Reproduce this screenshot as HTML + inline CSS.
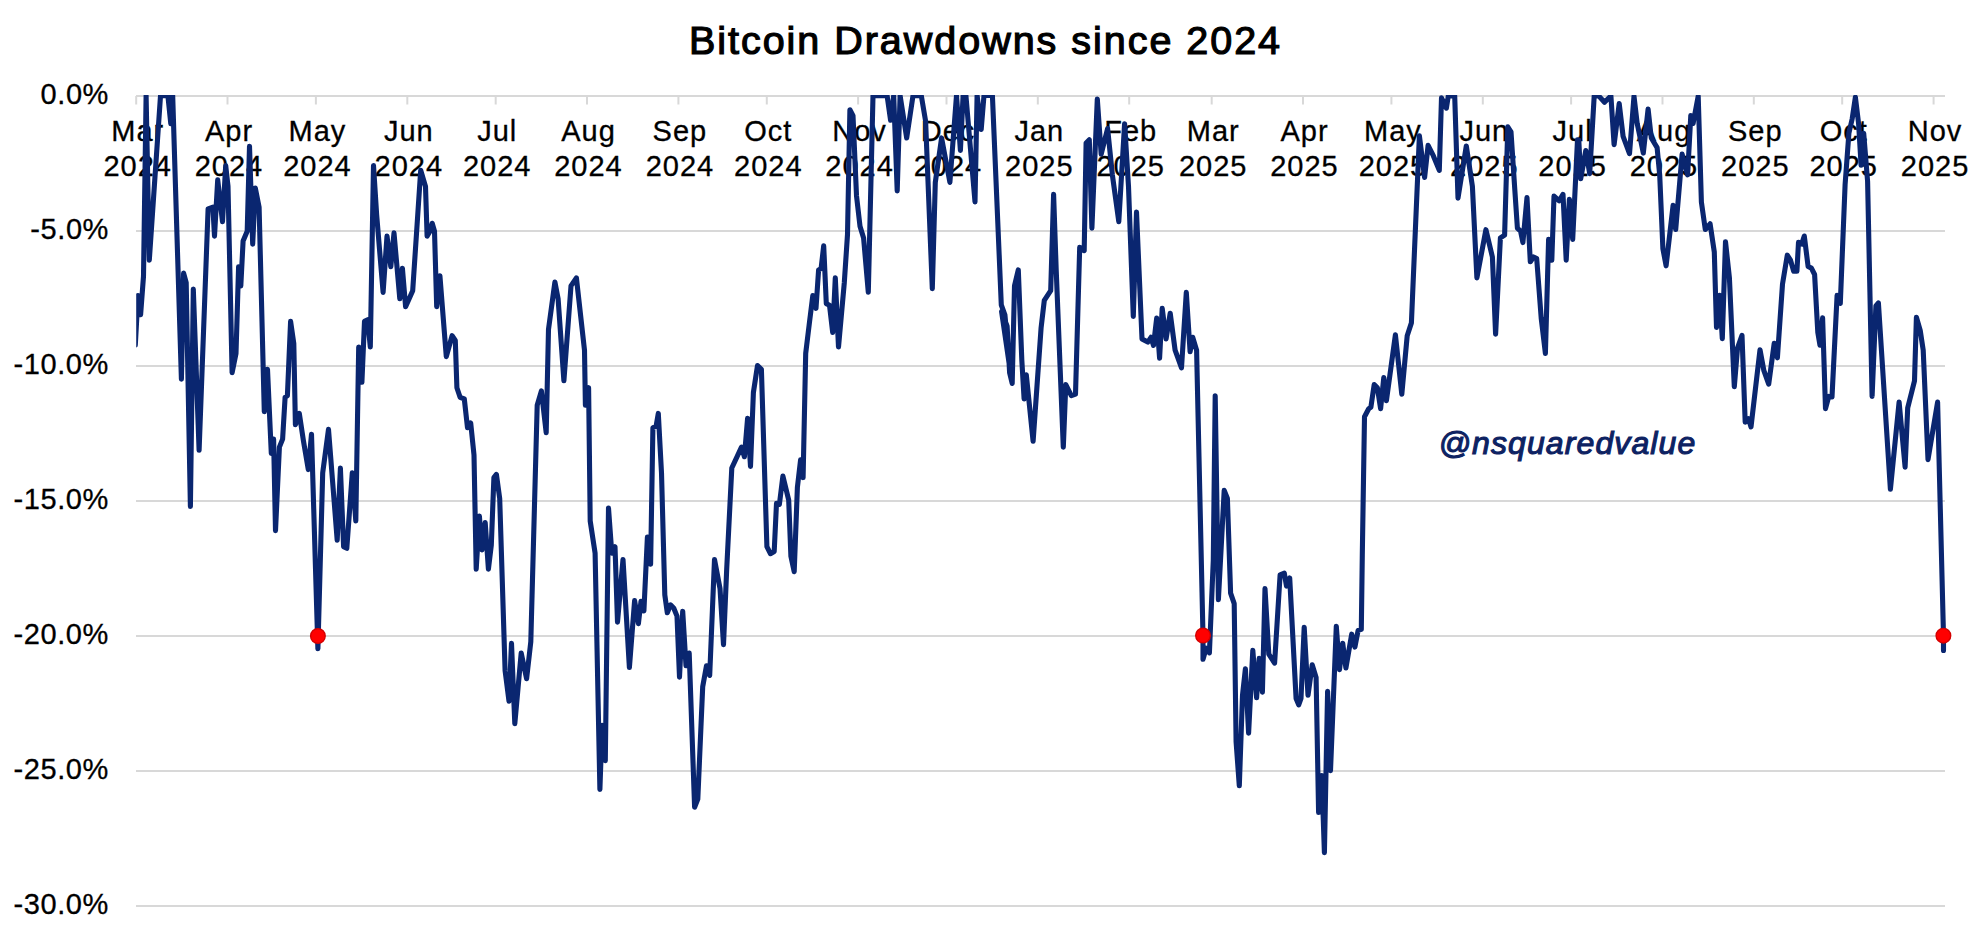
<!DOCTYPE html>
<html><head><meta charset="utf-8"><style>
html,body{margin:0;padding:0;background:#fff;}
body{width:1968px;height:934px;overflow:hidden;position:relative;}
svg{position:absolute;left:0;top:0;}
text{font-family:"Liberation Sans",sans-serif;}
.yl{font-size:29px;letter-spacing:0.6px;fill:#000;stroke:#000;stroke-width:0.3px;}
.xl{font-size:29px;letter-spacing:1px;fill:#000;stroke:#000;stroke-width:0.3px;}
.ttl{font-size:39.5px;letter-spacing:1.97px;stroke:#000;stroke-width:1.2px;fill:#000;}
.wm{font-size:32px;font-style:italic;letter-spacing:1.1px;stroke:#0d2262;stroke-width:1.1px;fill:#0d2262;}
</style></head><body>
<svg width="1968" height="934" viewBox="0 0 1968 934">
<text x="985.5" y="53.5" text-anchor="middle" class="ttl">Bitcoin Drawdowns since 2024</text>
<line x1="136" y1="95.9" x2="1945" y2="95.9" stroke="#d8d8d8" stroke-width="2"/>
<line x1="136" y1="230.9" x2="1945" y2="230.9" stroke="#d8d8d8" stroke-width="2"/>
<line x1="136" y1="365.9" x2="1945" y2="365.9" stroke="#d8d8d8" stroke-width="2"/>
<line x1="136" y1="500.9" x2="1945" y2="500.9" stroke="#d8d8d8" stroke-width="2"/>
<line x1="136" y1="635.9" x2="1945" y2="635.9" stroke="#d8d8d8" stroke-width="2"/>
<line x1="136" y1="770.9" x2="1945" y2="770.9" stroke="#d8d8d8" stroke-width="2"/>
<line x1="136" y1="905.9" x2="1945" y2="905.9" stroke="#d8d8d8" stroke-width="2"/>
<line x1="136.2" y1="96" x2="136.2" y2="104.5" stroke="#d8d8d8" stroke-width="2"/>
<line x1="227.5" y1="96" x2="227.5" y2="104.5" stroke="#d8d8d8" stroke-width="2"/>
<line x1="315.9" y1="96" x2="315.9" y2="104.5" stroke="#d8d8d8" stroke-width="2"/>
<line x1="407.3" y1="96" x2="407.3" y2="104.5" stroke="#d8d8d8" stroke-width="2"/>
<line x1="495.7" y1="96" x2="495.7" y2="104.5" stroke="#d8d8d8" stroke-width="2"/>
<line x1="587.0" y1="96" x2="587.0" y2="104.5" stroke="#d8d8d8" stroke-width="2"/>
<line x1="678.4" y1="96" x2="678.4" y2="104.5" stroke="#d8d8d8" stroke-width="2"/>
<line x1="766.8" y1="96" x2="766.8" y2="104.5" stroke="#d8d8d8" stroke-width="2"/>
<line x1="858.1" y1="96" x2="858.1" y2="104.5" stroke="#d8d8d8" stroke-width="2"/>
<line x1="946.5" y1="96" x2="946.5" y2="104.5" stroke="#d8d8d8" stroke-width="2"/>
<line x1="1037.8" y1="96" x2="1037.8" y2="104.5" stroke="#d8d8d8" stroke-width="2"/>
<line x1="1129.2" y1="96" x2="1129.2" y2="104.5" stroke="#d8d8d8" stroke-width="2"/>
<line x1="1211.7" y1="96" x2="1211.7" y2="104.5" stroke="#d8d8d8" stroke-width="2"/>
<line x1="1303.0" y1="96" x2="1303.0" y2="104.5" stroke="#d8d8d8" stroke-width="2"/>
<line x1="1391.4" y1="96" x2="1391.4" y2="104.5" stroke="#d8d8d8" stroke-width="2"/>
<line x1="1482.8" y1="96" x2="1482.8" y2="104.5" stroke="#d8d8d8" stroke-width="2"/>
<line x1="1571.1" y1="96" x2="1571.1" y2="104.5" stroke="#d8d8d8" stroke-width="2"/>
<line x1="1662.5" y1="96" x2="1662.5" y2="104.5" stroke="#d8d8d8" stroke-width="2"/>
<line x1="1753.8" y1="96" x2="1753.8" y2="104.5" stroke="#d8d8d8" stroke-width="2"/>
<line x1="1842.2" y1="96" x2="1842.2" y2="104.5" stroke="#d8d8d8" stroke-width="2"/>
<line x1="1933.6" y1="96" x2="1933.6" y2="104.5" stroke="#d8d8d8" stroke-width="2"/>
<text x="109" y="104.3" text-anchor="end" class="yl">0.0%</text>
<text x="109" y="239.3" text-anchor="end" class="yl">-5.0%</text>
<text x="109" y="374.3" text-anchor="end" class="yl">-10.0%</text>
<text x="109" y="509.3" text-anchor="end" class="yl">-15.0%</text>
<text x="109" y="644.3" text-anchor="end" class="yl">-20.0%</text>
<text x="109" y="779.3" text-anchor="end" class="yl">-25.0%</text>
<text x="109" y="914.3" text-anchor="end" class="yl">-30.0%</text>
<text x="137.7" y="141" text-anchor="middle" class="xl">Mar</text>
<text x="137.7" y="176" text-anchor="middle" class="xl">2024</text>
<text x="229.0" y="141" text-anchor="middle" class="xl">Apr</text>
<text x="229.0" y="176" text-anchor="middle" class="xl">2024</text>
<text x="317.4" y="141" text-anchor="middle" class="xl">May</text>
<text x="317.4" y="176" text-anchor="middle" class="xl">2024</text>
<text x="408.8" y="141" text-anchor="middle" class="xl">Jun</text>
<text x="408.8" y="176" text-anchor="middle" class="xl">2024</text>
<text x="497.2" y="141" text-anchor="middle" class="xl">Jul</text>
<text x="497.2" y="176" text-anchor="middle" class="xl">2024</text>
<text x="588.5" y="141" text-anchor="middle" class="xl">Aug</text>
<text x="588.5" y="176" text-anchor="middle" class="xl">2024</text>
<text x="679.9" y="141" text-anchor="middle" class="xl">Sep</text>
<text x="679.9" y="176" text-anchor="middle" class="xl">2024</text>
<text x="768.3" y="141" text-anchor="middle" class="xl">Oct</text>
<text x="768.3" y="176" text-anchor="middle" class="xl">2024</text>
<text x="859.6" y="141" text-anchor="middle" class="xl">Nov</text>
<text x="859.6" y="176" text-anchor="middle" class="xl">2024</text>
<text x="948.0" y="141" text-anchor="middle" class="xl">Dec</text>
<text x="948.0" y="176" text-anchor="middle" class="xl">2024</text>
<text x="1039.3" y="141" text-anchor="middle" class="xl">Jan</text>
<text x="1039.3" y="176" text-anchor="middle" class="xl">2025</text>
<text x="1130.7" y="141" text-anchor="middle" class="xl">Feb</text>
<text x="1130.7" y="176" text-anchor="middle" class="xl">2025</text>
<text x="1213.2" y="141" text-anchor="middle" class="xl">Mar</text>
<text x="1213.2" y="176" text-anchor="middle" class="xl">2025</text>
<text x="1304.5" y="141" text-anchor="middle" class="xl">Apr</text>
<text x="1304.5" y="176" text-anchor="middle" class="xl">2025</text>
<text x="1392.9" y="141" text-anchor="middle" class="xl">May</text>
<text x="1392.9" y="176" text-anchor="middle" class="xl">2025</text>
<text x="1484.3" y="141" text-anchor="middle" class="xl">Jun</text>
<text x="1484.3" y="176" text-anchor="middle" class="xl">2025</text>
<text x="1572.6" y="141" text-anchor="middle" class="xl">Jul</text>
<text x="1572.6" y="176" text-anchor="middle" class="xl">2025</text>
<text x="1664.0" y="141" text-anchor="middle" class="xl">Aug</text>
<text x="1664.0" y="176" text-anchor="middle" class="xl">2025</text>
<text x="1755.3" y="141" text-anchor="middle" class="xl">Sep</text>
<text x="1755.3" y="176" text-anchor="middle" class="xl">2025</text>
<text x="1843.7" y="141" text-anchor="middle" class="xl">Oct</text>
<text x="1843.7" y="176" text-anchor="middle" class="xl">2025</text>
<text x="1935.1" y="141" text-anchor="middle" class="xl">Nov</text>
<text x="1935.1" y="176" text-anchor="middle" class="xl">2025</text>
<defs><clipPath id="pc"><rect x="136.2" y="95" width="1832" height="840"/></clipPath></defs>
<polyline points="135.3,345.0 138.0,295.6 140.6,314.8 143.5,276.3 146.1,95.8 149.3,260.2 160.5,95.8 167.9,95.8 170.8,123.7 172.7,95.8 181.4,379.1 183.6,273.1 186.2,282.7 190.4,506.5 193.3,289.1 199.1,450.3 208.1,208.8 212.9,207.2 214.5,236.1 217.7,179.9 222.5,221.7 225.7,165.5 228.0,186.4 232.1,372.7 236.0,353.4 238.6,266.7 240.8,285.9 243.1,241.0 247.2,231.3 249.5,146.2 252.7,244.2 255.3,188.0 259.1,207.2 264.3,411.8 267.5,369.4 271.3,453.5 273.6,439.1 275.5,530.6 279.4,447.1 282.6,439.1 285.1,397.3 287.4,395.7 290.6,321.3 293.8,343.7 295.4,424.6 299.3,413.4 303.4,440.7 308.3,469.6 311.5,434.2 317.9,648.8 322.7,472.8 328.5,429.4 337.2,540.2 340.4,468.0 343.6,546.7 346.8,548.3 352.3,472.8 355.8,521.0 358.7,347.0 361.9,382.3 364.5,321.3 367.7,319.7 370.3,347.0 373.5,165.5 376.7,215.3 383.1,292.4 387.0,236.1 390.8,266.7 394.0,232.9 399.8,298.8 402.4,268.3 405.6,306.8 412.7,290.7 420.7,170.3 425.5,186.4 427.1,236.1 430.0,231.3 432.2,223.3 434.5,231.3 436.7,306.8 439.9,275.7 446.3,356.6 452.1,335.7 455.3,340.5 456.9,387.7 460.1,397.3 464.3,398.9 467.5,427.8 470.7,423.0 474.0,455.1 476.2,569.1 479.4,516.1 482.0,549.9 485.2,522.6 488.4,569.1 491.3,545.1 493.9,477.6 496.4,474.4 499.7,498.5 505.1,670.7 509.0,701.2 511.5,643.4 514.8,723.7 521.2,653.0 526.6,678.7 530.8,641.8 537.2,405.3 541.4,390.9 546.2,432.6 548.5,329.3 554.9,282.1 558.1,298.8 563.9,380.7 571.0,285.9 576.4,277.9 584.5,350.2 585.4,405.3 588.6,387.7 590.2,521.0 595.1,553.1 599.9,789.5 602.1,725.3 605.3,760.6 608.5,508.1 611.8,553.1 615.0,546.7 617.5,622.1 623.0,559.5 629.4,667.5 634.6,600.6 638.4,623.7 641.0,601.3 643.9,610.9 647.4,537.0 650.6,564.3 652.9,427.8 656.1,426.2 658.3,413.4 661.5,472.8 664.8,594.8 667.3,612.8 670.5,604.8 673.7,608.0 677.0,616.1 679.5,677.1 682.7,611.2 686.0,665.8 689.2,653.0 694.6,807.2 697.8,799.1 702.7,686.7 706.5,665.8 709.7,675.5 714.5,559.5 720.0,588.4 723.5,644.6 726.7,569.1 731.8,468.0 741.5,447.1 744.4,456.7 747.6,418.2 750.5,466.4 753.4,392.5 757.5,365.6 761.4,369.4 766.9,546.7 770.4,553.7 774.2,551.5 776.5,503.3 779.4,504.3 782.9,476.0 788.7,500.1 790.9,556.3 794.2,571.7 797.4,487.2 800.6,459.9 803.1,477.6 805.7,353.4 809.6,321.3 812.8,295.6 816.0,308.4 818.6,269.9 821.1,268.6 823.7,245.8 826.3,303.6 829.5,305.2 832.7,332.5 835.3,277.9 838.5,347.0 844.3,282.7 847.5,234.5 849.9,109.7 853.0,115.6 856.5,195.7 860.0,226.3 863.6,238.1 868.3,292.3 873.0,95.6 887.1,95.6 890.6,120.3 893.7,95.6 897.2,191.0 900.1,95.6 906.7,138.0 913.0,95.6 921.3,95.6 925.6,121.2 932.3,288.7 935.3,182.4 941.6,137.9 949.9,182.4 956.5,95.4 960.4,150.4 963.1,95.4 965.9,95.4 975.0,201.9 977.1,95.4 981.2,129.5 984.0,95.4 992.4,95.4 1001.3,305.0 1004.9,314.8 1010.0,369.4 1001.6,311.6 1007.1,326.1 1009.6,372.7 1012.2,383.5 1014.5,285.9 1018.3,269.9 1021.8,359.8 1024.1,398.9 1026.3,374.8 1033.1,441.3 1041.1,327.7 1044.3,300.4 1050.7,290.7 1053.6,194.4 1056.2,269.9 1063.3,447.1 1065.8,384.5 1071.3,395.7 1075.5,394.1 1079.7,247.4 1084.2,250.6 1086.1,143.0 1089.3,139.8 1091.9,228.1 1097.3,99.0 1101.2,154.2 1107.6,128.5 1112.4,175.1 1118.8,221.7 1124.6,123.7 1128.5,186.4 1133.3,316.4 1136.5,212.1 1142.0,338.9 1147.8,342.1 1151.0,337.3 1153.5,345.4 1156.7,318.1 1159.6,358.2 1162.2,308.4 1166.1,338.9 1170.2,313.2 1175.1,350.2 1181.5,367.8 1186.3,292.4 1190.1,351.8 1192.7,337.3 1196.6,350.2 1203.0,635.8 1203.0,659.3 1206.2,648.1 1209.4,652.9 1213.3,560.0 1215.2,395.7 1218.4,599.7 1224.2,490.4 1227.4,498.5 1230.6,593.2 1234.2,603.7 1236.1,741.8 1239.3,785.8 1242.5,695.3 1245.4,668.9 1248.6,733.2 1252.8,650.3 1256.6,697.8 1259.2,658.3 1262.4,692.1 1265.0,588.6 1268.8,654.2 1274.6,663.1 1280.1,574.8 1284.3,573.2 1286.5,586.1 1289.7,578.0 1296.1,698.5 1298.7,704.9 1301.0,698.5 1304.2,627.2 1308.0,695.3 1312.2,664.8 1316.1,677.6 1318.6,812.5 1321.8,775.6 1324.4,852.7 1327.6,691.4 1330.5,770.7 1336.3,626.2 1339.5,669.6 1342.7,643.2 1345.9,668.0 1351.7,634.2 1354.9,647.1 1358.1,630.4 1361.3,629.4 1362.3,554.8 1364.5,416.7 1368.7,408.7 1370.9,407.1 1374.2,384.6 1377.4,387.8 1380.6,408.7 1383.8,377.5 1386.4,400.7 1395.4,334.8 1401.8,394.2 1407.2,335.7 1411.4,322.9 1419.4,135.7 1424.6,177.5 1428.1,145.4 1433.3,155.7 1439.3,170.4 1441.5,97.8 1446.4,108.1 1448.3,95.9 1454.7,95.9 1458.0,198.1 1466.3,146.0 1472.4,186.4 1476.9,277.9 1485.9,229.7 1492.4,257.0 1495.6,334.1 1500.4,237.8 1504.6,235.2 1507.8,126.9 1511.0,131.8 1514.8,189.6 1517.4,228.1 1520.6,231.3 1522.9,242.6 1527.0,197.6 1530.3,261.8 1533.5,257.0 1536.7,258.6 1541.2,318.1 1545.4,353.4 1548.6,239.4 1551.8,260.2 1554.0,196.0 1559.2,200.8 1563.0,194.4 1566.2,260.2 1569.4,199.2 1572.7,239.4 1577.5,139.8 1578.8,140.2 1580.7,178.8 1585.8,150.5 1589.7,173.7 1594.2,95.9 1598.7,95.9 1604.5,102.3 1610.9,95.9 1614.1,144.7 1619.2,103.6 1623.1,136.4 1629.5,153.7 1634.0,96.2 1637.2,123.5 1643.3,153.1 1648.1,109.1 1651.3,138.0 1657.1,147.6 1659.7,174.9 1662.9,248.8 1666.1,265.8 1673.1,205.4 1675.7,229.5 1682.1,154.1 1687.6,174.9 1690.8,115.5 1693.1,123.5 1698.2,96.2 1701.4,202.2 1705.3,229.5 1710.1,223.8 1714.3,252.0 1716.5,327.5 1719.7,295.4 1722.3,338.7 1725.5,241.7 1729.4,277.7 1734.3,386.7 1737.5,348.2 1742.0,335.3 1745.2,422.1 1748.5,418.8 1751.0,426.9 1760.0,349.8 1763.9,370.7 1768.7,384.2 1774.2,343.4 1777.4,357.8 1782.5,284.1 1787.3,255.2 1790.5,260.1 1793.7,271.3 1796.9,271.3 1798.5,242.4 1801.7,244.0 1804.3,236.0 1808.1,266.5 1811.4,268.1 1814.6,274.5 1817.8,332.3 1820.0,345.2 1822.6,317.9 1825.5,408.6 1828.8,396.4 1832.0,397.0 1837.1,295.4 1840.3,303.4 1845.1,184.6 1848.9,133.2 1852.2,118.7 1855.4,97.2 1858.6,123.5 1861.1,165.3 1863.7,133.2 1867.6,181.4 1872.1,396.4 1875.9,305.8 1878.4,302.9 1890.4,489.3 1899.1,402.1 1905.1,467.1 1907.7,407.9 1914.5,380.9 1916.4,317.3 1920.3,330.8 1923.2,350.1 1928.0,459.7 1937.6,402.1 1943.5,635.8 1943.5,650.5" fill="none" stroke="#0a2670" stroke-width="5.1" stroke-linejoin="round" stroke-linecap="round" clip-path="url(#pc)"/>
<circle cx="317.9" cy="636" r="7.3" fill="#ff0000" stroke="#d40000" stroke-width="1.4"/>
<circle cx="1203" cy="635.5" r="7.3" fill="#ff0000" stroke="#d40000" stroke-width="1.4"/>
<circle cx="1943.4" cy="635.7" r="7.3" fill="#ff0000" stroke="#d40000" stroke-width="1.4"/>
<text x="1438.5" y="454" class="wm">@nsquaredvalue</text>
</svg>
</body></html>
